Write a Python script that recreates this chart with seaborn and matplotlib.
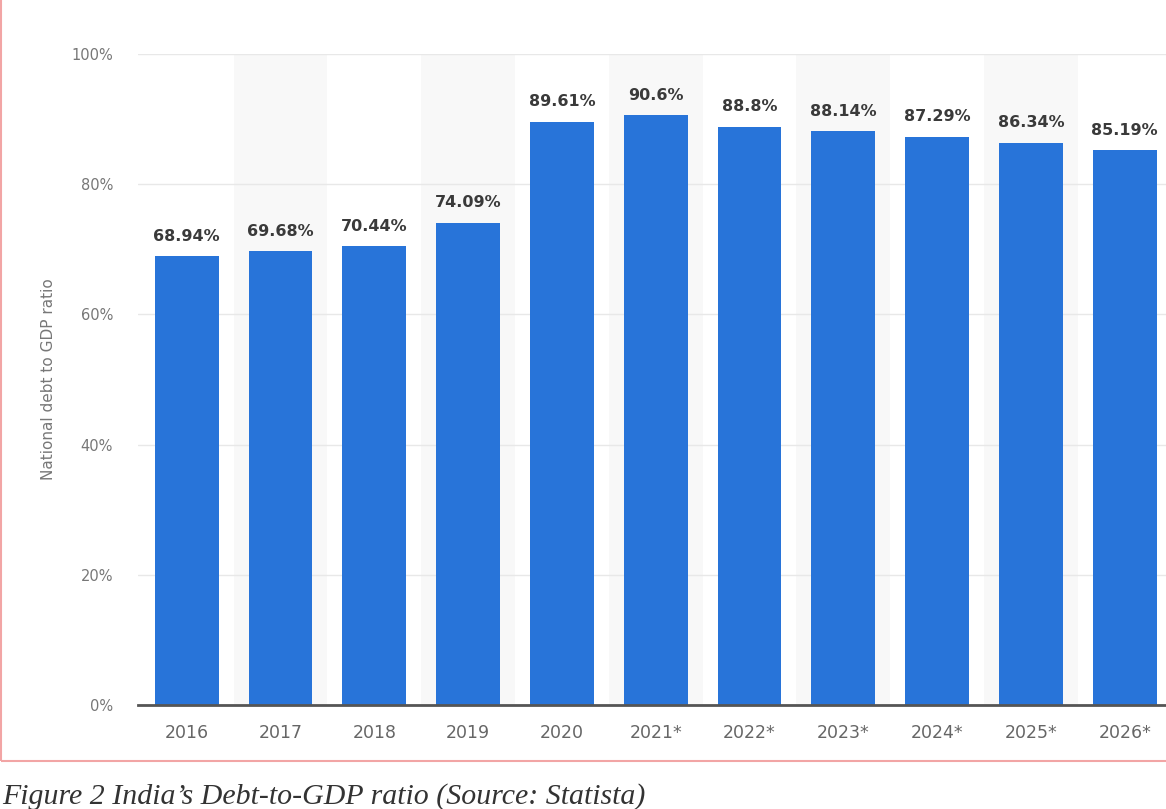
import matplotlib
matplotlib.use("Agg")
import matplotlib.pyplot as plt
import seaborn as sns
from matplotlib.patches import Rectangle
from matplotlib.ticker import FuncFormatter

#%% dados
years = ["2016", "2017", "2018", "2019", "2020", "2021*", "2022*",
         "2023*", "2024*", "2025*", "2026*"]
debt_ratio = [68.94, 69.68, 70.44, 74.09, 89.61, 90.6, 88.8,
              88.14, 87.29, 86.34, 85.19]
y_ticks = [0, 20, 40, 60, 80, 100]
caption = "Figure 2 India\u2019s Debt-to-GDP ratio (Source: Statista)"

#%% figura
sns.set_theme(style="white")
plt.rcParams['font.family'] = ['DejaVu Sans']

fig = plt.figure(figsize=(11.66, 8.09), dpi=100)
ax = fig.add_axes([138 / 1166, 1 - 705 / 809, 1 - 138 / 1166, (705 - 54) / 809])

# faixas cinza alternadas no fundo
for i in range(1, len(years), 2):
    ax.axvspan(i - 0.5, i + 0.5, ymin=0, ymax=1, color="#f8f8f8", zorder=0, lw=0)

sns.barplot(x=years, y=debt_ratio, color="#2874d9", saturation=1,
            width=0.68, linewidth=0, ax=ax, zorder=3)

labels = [f"{v:g}%" for v in debt_ratio]
ax.bar_label(ax.containers[0], labels=labels, padding=9,
             fontsize=11.5, fontweight="bold", color="#3a3a3a")

ax.set_ylim(0, 100)
ax.set_xlim(-0.52, 10.44)
ax.set_yticks(y_ticks)
ax.yaxis.set_major_formatter(FuncFormatter(lambda v, p: f"{v:.0f}%"))
ax.grid(axis="y", color="#e8e8e8", lw=1)
ax.set_axisbelow(True)

for s in ["top", "right", "left"]:
    ax.spines[s].set_visible(False)
ax.spines["bottom"].set_color("#555555")
ax.spines["bottom"].set_linewidth(2)
ax.spines["bottom"].set_zorder(5)

ax.tick_params(axis="y", length=0, pad=18, labelsize=10.5, labelcolor="#777777")
ax.tick_params(axis="x", length=0, pad=14, labelsize=12.5, labelcolor="#666666")
ax.set_ylabel("National debt to GDP ratio", fontsize=11, color="#777777", labelpad=11)
ax.set_xlabel("")

# moldura rosa
fig.patches.append(Rectangle((1 / 1166, 1 - 761 / 809), 1.2, 761 / 809 + 0.01,
                             transform=fig.transFigure, fill=False,
                             edgecolor="#f2a5a5", lw=1.5, zorder=10))

fig.text(2 / 1166, 1 - 797 / 809, caption, fontsize=21.5, style="italic",
         family="Liberation Serif", color="#333333", va="center", ha="left")

fig.savefig("out.png", dpi=100)
